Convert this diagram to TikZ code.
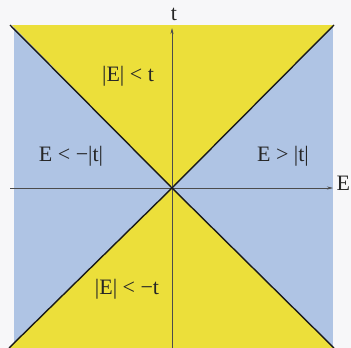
\documentclass[tikz,border=0pt]{standalone}
\usepackage{fontspec}
\setmainfont{Liberation Serif}
\definecolor{yel}{HTML}{ECDF3A}
\definecolor{blu}{HTML}{AFC4E4}
\definecolor{bgw}{HTML}{F7F7F9}
\tikzset{
  lbl/.style={font=\fontsize{22}{22}\selectfont, text=black!85, inner sep=0pt},
  axis/.style={draw=black!70, line width=0.6pt, -{Stealth[length=6pt,width=3pt]}},
  diag/.style={draw=black!90, line width=1.4pt},
}
\usetikzlibrary{arrows.meta}
\begin{document}
\begin{tikzpicture}[x=1pt,y=-1pt]
\useasboundingbox (0,0) rectangle (351,348);
\fill[bgw] (0,0) rectangle (351,348);
\fill[blu] (14,25) rectangle (333,348);
\coordinate (C) at (172,188);
\coordinate (TL) at (10,25);
\coordinate (TR) at (334,25);
\coordinate (BL) at (9,348);
\coordinate (BR) at (334,348);
\fill[yel] (C) -- (12,25) -- (TR) -- cycle;
\fill[yel] (C) -- (BL) -- (BR) -- cycle;
\coordinate (Tb) at (172,348);
\coordinate (Tt) at (172,28);
\coordinate (El) at (10,188);
\coordinate (Er) at (333,188);
\draw[axis] (Tb) -- (Tt);
\draw[axis] (El) -- (Er);
\draw[diag] (TL) -- (C) -- (BR);
\draw[diag] (BL) -- (C) -- (TR);
\node[lbl] (tl) at (174,14) {t};
\node[lbl, anchor=west] (el) at (336.5,183) {E};
\node[lbl] (n1) at (128,76) {|E| < t};
\node[lbl] (n2) at (71,156) {E < −|t|};
\node[lbl] (n3) at (283,156) {E > |t|};
\node[lbl] (n4) at (127,289) {|E| < −t};
\end{tikzpicture}
\end{document}
